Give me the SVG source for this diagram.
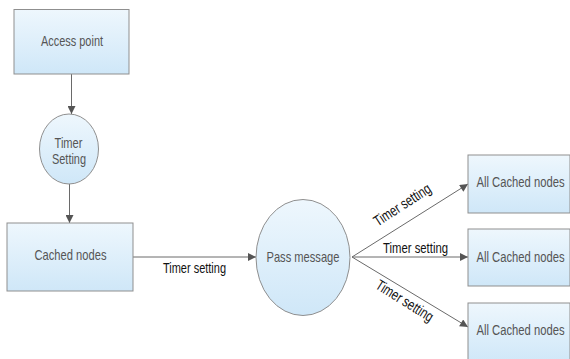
<svg xmlns="http://www.w3.org/2000/svg" width="570" height="359" viewBox="0 0 570 359">
  <defs>
    <linearGradient id="fillg" x1="0" y1="0" x2="0" y2="1">
      <stop offset="0" stop-color="#eef7fd"/>
      <stop offset="1" stop-color="#cfe7f8"/>
    </linearGradient>
    <marker id="arr" viewBox="0 0 10 10" refX="10" refY="5" markerUnits="userSpaceOnUse" markerWidth="9" markerHeight="8" orient="auto">
      <path d="M0,0 L10,5 L0,10 z" fill="#555"/>
    </marker>
    <style>
      .node { fill: url(#fillg); stroke: #8f8f8f; stroke-width: 1; }
      .nt { font-family: "Liberation Sans", Arial, sans-serif; font-size: 15px; fill: #555; text-anchor: middle; }
      .lt { font-family: "Liberation Sans", Arial, sans-serif; font-size: 15px; fill: #111; text-anchor: middle; }
      .rt { font-family: "Liberation Sans", Arial, sans-serif; font-size: 15px; fill: #555; text-anchor: start; }
      .edge { stroke: #6a6a6a; stroke-width: 1; fill: none; marker-end: url(#arr); }
    </style>
  </defs>
  <rect width="570" height="359" fill="#ffffff"/>

  <g id="connectors">
    <line class="edge" x1="71.5" y1="74" x2="71.5" y2="114"/>
    <line class="edge" x1="69.5" y1="184" x2="69.5" y2="223"/>
    <line class="edge" x1="133" y1="257" x2="256" y2="257"/>
    <line class="edge" x1="352" y1="257" x2="468" y2="184"/>
    <line class="edge" x1="352" y1="257" x2="468" y2="257"/>
    <line class="edge" x1="352" y1="257" x2="468" y2="327"/>
    <text class="lt" x="194.5" y="273" textLength="63" lengthAdjust="spacingAndGlyphs">Timer setting</text>
    <text class="lt" x="405" y="209" transform="rotate(-33 405 209)" textLength="65" lengthAdjust="spacingAndGlyphs">Timer setting</text>
    <text class="lt" x="415.5" y="252.5" textLength="65" lengthAdjust="spacingAndGlyphs">Timer setting</text>
    <text class="lt" x="402" y="305" transform="rotate(32 402 305)" textLength="65" lengthAdjust="spacingAndGlyphs">Timer setting</text>
  </g>

  <g id="access-point">
    <rect class="node" x="14" y="9.5" width="115" height="64.5"/>
    <text class="nt" x="72" y="46" textLength="62" lengthAdjust="spacingAndGlyphs">Access point</text>
  </g>

  <g id="timer-setting">
    <ellipse class="node" cx="69" cy="149" rx="29.5" ry="35"/>
    <text class="nt" x="68.5" y="148" textLength="28" lengthAdjust="spacingAndGlyphs">Timer</text>
    <text class="nt" x="69" y="164" textLength="34" lengthAdjust="spacingAndGlyphs">Setting</text>
  </g>

  <g id="cached-nodes">
    <rect class="node" x="7" y="223" width="126" height="68"/>
    <text class="nt" x="70.5" y="260" textLength="72" lengthAdjust="spacingAndGlyphs">Cached nodes</text>
  </g>

  <g id="pass-message">
    <ellipse class="node" cx="303" cy="257.5" rx="47" ry="58"/>
    <text class="nt" x="303" y="262" textLength="73" lengthAdjust="spacingAndGlyphs">Pass message</text>
  </g>

  <g id="all-cached-1">
    <rect class="node" x="468" y="155" width="102" height="58"/>
    <text class="rt" transform="translate(476.5 187) scale(0.75 1)">All Cached nodes</text>
  </g>

  <g id="all-cached-2">
    <rect class="node" x="468" y="229" width="102" height="57"/>
    <text class="rt" transform="translate(476.5 262) scale(0.75 1)">All Cached nodes</text>
  </g>

  <g id="all-cached-3">
    <rect class="node" x="468" y="303" width="102" height="60"/>
    <text class="rt" transform="translate(476.5 335) scale(0.75 1)">All Cached nodes</text>
  </g>
</svg>
